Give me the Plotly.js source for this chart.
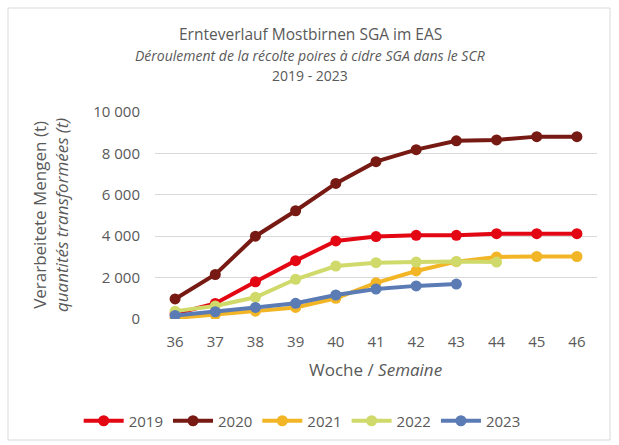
<!DOCTYPE html>
<html><head><meta charset="utf-8">
<script src="https://cdn.plot.ly/plotly-3.0.1.min.js"></script>
<style>html,body{margin:0;padding:0;background:#fff}</style>
</head><body><div id="chart" style="width:619px;height:445px"></div>
<script>
const weeks = [36,37,38,39,40,41,42,43,44,45,46];
const y2019 = [250,750,1800,2820,3770,3980,4040,4040,4120,4120,4120];
const y2020 = [970,2150,4000,5230,6550,7600,8180,8610,8650,8810,8810];
const y2021 = [50,200,380,560,1000,1750,2320,2770,3000,3020,3020];
const y2022 = [380,630,1050,1920,2560,2720,2750,2780,2750];
const y2023 = [170,350,560,760,1160,1450,1600,1690];
const names = ['2019','2020','2021','2022','2023'];
const colors = ['#E30613','#771A13','#F2B526','#CFDA6B','#5B7BB5'];
const series = [y2019,y2020,y2021,y2022,y2023];
const traces = series.map((s,i)=>({
  x: weeks.slice(0,s.length), y: s, name: names[i], type:'scatter', mode:'lines+markers',
  line:{color:colors[i], width:4}, marker:{color:colors[i], size:11}
}));
const font = "Open Sans, Liberation Sans, sans-serif";
const gray = '#595959';
const py = p => (319-p)/207;
const px = p => (p-155)/442;
const layout = {
  width:619, height:445, separators:', ',
  margin:{l:155, r:22, t:112, b:126, autoexpand:false},
  paper_bgcolor:'#fff', plot_bgcolor:'#fff',
  font:{family:font, color:gray, size:14},
  showlegend:true,
  legend:{orientation:'h', x:0.333, xanchor:'center', y:py(421), yanchor:'middle', font:{size:15, color:gray}, itemwidth:40, traceorder:'normal'},
  xaxis:{range:[35.5,46.5], tickvals:weeks, ticktext:weeks.map(String), showgrid:false, zeroline:false, showline:false, ticks:'', tickfont:{size:15,color:gray}, ticklabelstandoff:12},
  yaxis:{range:[0,10000], dtick:2000, tickformat:',d', gridcolor:'#D9D9D9', gridwidth:1, zeroline:false, showline:false, ticks:'', tickfont:{size:15,color:gray}, ticklabelstandoff:14},
  annotations:[
    {text:'Ernteverlauf Mostbirnen SGA im EAS', xref:'paper', yref:'paper', x:px(310), y:py(34), xanchor:'center', yanchor:'middle', showarrow:false, font:{size:15.5, color:gray}},
    {text:'<i>Déroulement de la récolte poires à cidre SGA dans le SCR</i>', xref:'paper', yref:'paper', x:px(310), y:py(55), xanchor:'center', yanchor:'middle', showarrow:false, font:{size:14, color:gray}},
    {text:'2019 - 2023', xref:'paper', yref:'paper', x:px(310), y:py(76), xanchor:'center', yanchor:'middle', showarrow:false, font:{size:14, color:gray}},
    {text:'Verarbeitete Mengen (t)<br><i>quantités transformées (t)</i>', xref:'paper', yref:'paper', x:px(50), y:py(215), textangle:-90, xanchor:'center', yanchor:'middle', showarrow:false, font:{size:17, color:gray}},
    {text:'Woche / <i>Semaine</i>', xref:'paper', yref:'paper', x:px(375), y:py(369), xanchor:'center', yanchor:'middle', showarrow:false, font:{size:17, color:gray}}
  ],
  shapes:[{type:'rect', xref:'paper', yref:'paper', x0:px(8), x1:px(610), y0:py(440), y1:py(8), line:{color:'#D9D9D9', width:1}, fillcolor:'rgba(0,0,0,0)', layer:'below'}]
};
Plotly.newPlot('chart', traces, layout, {displayModeBar:false, staticPlot:true});
</script></body></html>
